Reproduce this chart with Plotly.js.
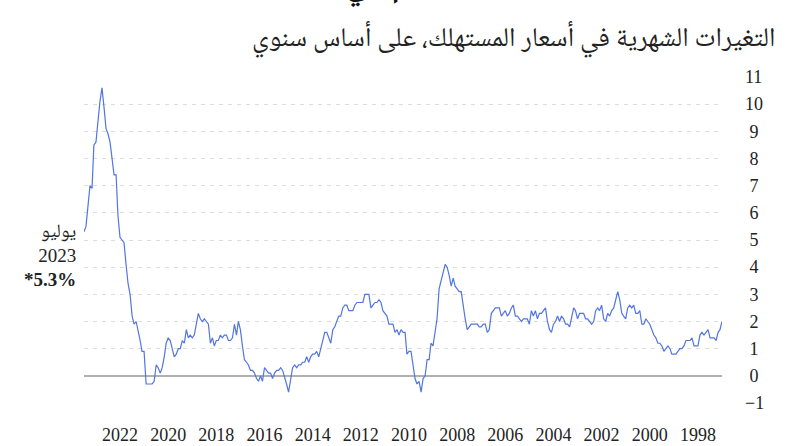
<!DOCTYPE html>
<html>
<head>
<meta charset="utf-8">
<script src="https://cdn.plot.ly/plotly-3.0.1.min.js"></script>
<style>html,body{margin:0;padding:0;background:#fff;}#chart{width:792px;height:446px;}</style>
</head>
<body>
<div id="chart"></div>
<script>
// Euro area consumer prices, annual rate of change (%), monthly, Jan 1997 - Jul 2023
const startYear = 1997;
const y1997 = [2.0,1.7,1.6,1.3,1.4,1.4,1.4,1.7,1.6,1.5,1.6,1.5];
const y1998 = [1.1,1.1,1.1,1.4,1.3,1.3,1.3,1.1,1.0,1.0,0.9,0.8];
const y1999 = [0.8,0.8,1.0,1.1,1.0,0.9,1.1,1.2,1.2,1.4,1.5,1.7];
const y2000 = [1.9,2.0,2.1,1.9,1.9,2.4,2.3,2.3,2.6,2.5,2.6,2.5];
const y2001 = [2.1,2.2,2.3,2.8,3.1,2.8,2.5,2.4,2.2,2.3,2.0,2.1];
const y2002 = [2.6,2.4,2.5,2.4,2.0,1.9,2.0,2.1,2.1,2.3,2.3,2.3];
const y2003 = [2.1,2.4,2.5,2.1,1.8,1.9,1.9,2.1,2.2,2.0,2.2,2.0];
const y2004 = [1.9,1.6,1.7,2.0,2.5,2.4,2.3,2.3,2.1,2.4,2.2,2.4];
const y2005 = [1.9,2.1,2.1,2.1,2.0,2.1,2.2,2.2,2.6,2.5,2.3,2.2];
const y2006 = [2.4,2.3,2.2,2.5,2.5,2.5,2.4,2.3,1.7,1.6,1.9,1.9];
const y2007 = [1.8,1.8,1.9,1.9,1.9,1.9,1.8,1.7,2.1,2.6,3.1,3.1];
const y2008 = [3.2,3.3,3.6,3.3,3.7,4.0,4.1,3.8,3.6,3.2,2.1,1.6];
const y2009 = [1.1,1.2,0.6,0.6,0.0,-0.1,-0.6,-0.2,-0.3,-0.1,0.5,0.9];
const y2010 = [0.9,0.8,1.6,1.6,1.7,1.5,1.7,1.6,1.9,1.9,1.9,2.2];
const y2011 = [2.3,2.4,2.7,2.8,2.7,2.7,2.6,2.5,3.0,3.0,3.0,2.7];
const y2012 = [2.7,2.7,2.7,2.6,2.4,2.4,2.4,2.6,2.6,2.5,2.2,2.2];
const y2013 = [2.0,1.8,1.7,1.2,1.4,1.6,1.6,1.3,1.1,0.7,0.9,0.8];
const y2014 = [0.8,0.7,0.5,0.7,0.5,0.5,0.4,0.4,0.3,0.4,0.3,-0.2];
const y2015 = [-0.6,-0.3,-0.1,0.2,0.3,0.2,0.2,0.1,-0.1,0.1,0.1,0.2];
const y2016 = [0.3,-0.2,0.0,-0.2,-0.1,0.1,0.2,0.2,0.4,0.5,0.6,1.1];
const y2017 = [1.7,2.0,1.5,1.9,1.4,1.3,1.3,1.5,1.5,1.4,1.5,1.3];
const y2018 = [1.3,1.1,1.4,1.2,1.9,2.0,2.1,2.0,2.1,2.3,1.9,1.5];
const y2019 = [1.4,1.5,1.4,1.7,1.2,1.3,1.0,1.0,0.8,0.7,1.0,1.3];
const y2020 = [1.4,1.2,0.7,0.3,0.1,0.3,0.4,-0.2,-0.3,-0.3,-0.3,-0.3];
const y2021 = [0.9,0.9,1.3,1.6,2.0,1.9,2.2,3.0,3.4,4.1,4.9,5.0];
const y2022 = [5.1,5.9,7.4,7.4,8.1,8.6,8.9,9.1,9.9,10.6,10.1,9.2];
const y2023 = [8.6,8.5,6.9,7.0,6.1,5.5,5.3];

const yearly = [y1997,y1998,y1999,y2000,y2001,y2002,y2003,y2004,y2005,y2006,y2007,y2008,y2009,
  y2010,y2011,y2012,y2013,y2014,y2015,y2016,y2017,y2018,y2019,y2020,y2021,y2022,y2023];

const yTickVals = [-1,0,1,2,3,4,5,6,7,8,9,10,11];
const yTickText = ["\u22121","\u20050","\u20051","\u20052","\u20053","\u20054","\u20055","\u20056","\u20057","\u20058","\u20059","10","11"];

const titleText = "التضخم في منطقة اليورو";
const subtitleText = "التغيرات الشهرية في أسعار المستهلك، على أساس سنوي";
const noteLines = ["يوليو", "2023", "<b>*5.3%</b>"];

const dates = [], values = [];
yearly.forEach((arr, i) => {
  arr.forEach((v, m) => {
    const mm = String(m + 1).padStart(2, "0");
    dates.push((startYear + i) + "-" + mm + "-01");
    values.push(v);
  });
});
const firstDate = dates[0], lastDate = dates[dates.length - 1];
const lastValue = values[values.length - 1];

const serif = "'Liberation Serif', 'Noto Naskh Arabic', 'DejaVu Serif', serif";
const arabic = "'Noto Naskh Arabic', 'Amiri', 'DejaVu Sans', serif";

const trace = {
  x: dates, y: values, type: "scatter", mode: "lines",
  line: {color: "#5275e0", width: 1.2}, hoverinfo: "skip"
};

const layout = {
  width: 792, height: 446,
  margin: {l: 84, r: 70, t: 77, b: 43},
  paper_bgcolor: "#fff", plot_bgcolor: "#fff",
  showlegend: false,
  xaxis: {
    type: "date",
    range: [lastDate, firstDate],
    tick0: "1998-01-01", dtick: "M24", tickformat: "%Y",
    showgrid: false, zeroline: false, showline: false,
    ticks: "", ticklabelstandoff: 19,
    tickfont: {family: serif, size: 18, color: "#222"}
  },
  yaxis: {
    side: "right",
    range: [-1, 11],
    tickvals: yTickVals, ticktext: yTickText,
    showgrid: true, gridcolor: "#dcdcdc", griddash: "4px,5px", gridwidth: 1,
    zeroline: true, zerolinecolor: "#b0b0b0", zerolinewidth: 1.5,
    showline: false, ticks: "", ticklabelstandoff: 22,
    tickfont: {family: serif, size: 18, color: "#222"}
  },
  annotations: [
    {
      xref: "paper", yref: "paper", x: 0.39, y: 1.0, yshift: 60,
      xanchor: "center", yanchor: "bottom", showarrow: false,
      text: "<b>" + titleText + "</b>",
      font: {family: arabic, size: 34, color: "#111"}
    },
    {
      xref: "paper", yref: "paper", x: 1.0, xshift: 56, y: 1.0, yshift: 37,
      xanchor: "right", yanchor: "middle", showarrow: false,
      text: subtitleText,
      font: {family: arabic, size: 27, color: "#222"}
    },
    {
      x: lastDate, y: lastValue, xref: "x", yref: "y",
      xanchor: "right", yanchor: "top", xshift: -6, yshift: 14,
      showarrow: false, align: "right",
      text: noteLines.join("<br>"),
      font: {family: serif, size: 19, color: "#222"}
    }
  ]
};

Plotly.newPlot("chart", [trace], layout, {staticPlot: true, displayModeBar: false});
</script>
</body>
</html>
